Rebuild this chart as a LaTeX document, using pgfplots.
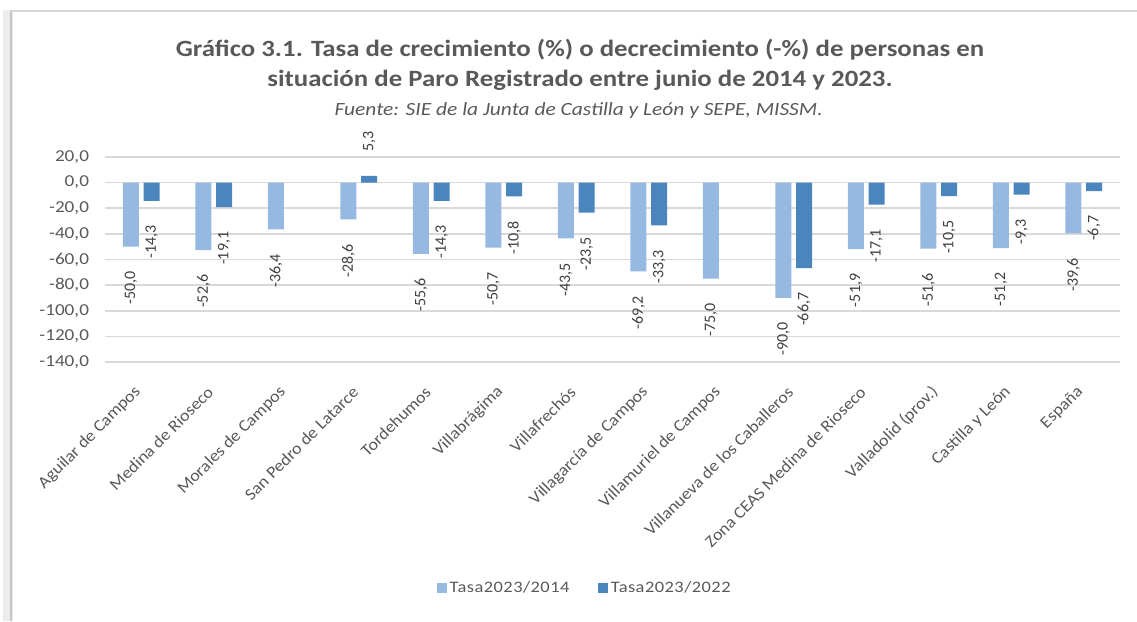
\documentclass[border=0pt]{standalone}
\usepackage{graphicx}
\usepackage{pgfplots}
\pgfplotsset{compat=1.18}
\usepackage{fontspec}
\setmainfont{Carlito}[FakeStretch=1.15]
\newfontfamily\valfont{Carlito}
\newfontfamily\catfont{Carlito}[FakeStretch=1.08]
\newfontfamily\legfont{Carlito}[FakeStretch=1.15, LetterSpace=3]
\definecolor{lightbar}{RGB}{149,185,225}
\definecolor{darkbar}{RGB}{74,134,189}
\definecolor{txt}{RGB}{89,89,89}
\definecolor{gridc}{RGB}{217,217,217}
\begin{document}
\begin{tikzpicture}
\useasboundingbox (0,0) rectangle (852.75pt,465.75pt);
% frame
\fill[gray!15] (2.25pt,0) rectangle (10pt,458.25pt);
\draw[gray!45, line width=2pt] (8.25pt,0) -- (8.25pt,458.25pt);
\draw[gray!30, line width=2pt] (8.25pt,457.5pt) -- (852.75pt,457.5pt);
% titles
\node[font=\fontsize{17.5}{20}\selectfont\bfseries, text=txt] at (435pt,428.25pt) {Gráfico 3.1. Tasa de crecimiento (\%) o decrecimiento (-\%) de personas en};
\node[font=\fontsize{17.5}{20}\selectfont\bfseries, text=txt] at (435pt,405.75pt) {situación de Paro Registrado entre junio de 2014 y 2023.};
\node[font=\fontsize{14}{16}\selectfont\itshape, text=txt] at (434pt,382.5pt) {Fuente: SIE de la Junta de Castilla y León y SEPE, MISSM.};
\begin{axis}[
  at={(78.75pt,194.25pt)}, anchor=south west,
  scale only axis, width=761.25pt, height=153.75pt,
  ybar=3.5pt, bar width=12pt,
  xmin=-0.5, xmax=13.5, ymin=-140, ymax=20,
  clip=false,
  xtick={0,...,13},
  xticklabels={Aguilar de Campos, Medina de Rioseco, Morales de Campos, San Pedro de Latarce, Tordehumos, Villabrágima, Villafrechós, Villagarcía de Campos, Villamuriel de Campos, Villanueva de los Caballeros, Zona CEAS Medina de Rioseco, Valladolid (prov.), Castilla y León, España},
  ytick={-140,-120,-100,-80,-60,-40,-20,0,20},
  yticklabels={{-140,0},{-120,0},{-100,0},{-80,0},{-60,0},{-40,0},{-20,0},{0,0},{20,0}},
  axis line style={draw=none},
  major tick length=0pt,
  ymajorgrids, grid style={gridc, line width=1.2pt},
  yticklabel style={font=\fontsize{12.5}{14}\selectfont, text=txt},
  yticklabel shift=8.5pt,
  xticklabel style={font=\catfont\fontsize{12.5}{14}\selectfont, text=txt, rotate=45, anchor=east},
  xticklabel shift=18pt,
  nodes near coords={\rotatebox{90}{\pgfmathprintnumber[fixed,fixed zerofill,precision=1,use comma,assume math mode=true]{\pgfplotspointmeta}}},
  nodes near coords align=vertical,
  every node near coord/.append style={font=\valfont\fontsize{12}{14}\selectfont, text=black!75, inner ysep=18.5pt, inner xsep=0pt, outer sep=0pt},
  legend image code/.code={\path[#1, draw=none] (0pt,-3.75pt) -- (7.5pt,-3.75pt) -- (7.5pt,3.75pt) -- (0pt,3.75pt) -- cycle;},
  legend style={at={(0.473,-1.102)}, anchor=center, draw=none, legend columns=2, font=\legfont\fontsize{12}{14}\selectfont, text=txt, /tikz/every even column/.append style={column sep=19.5pt}},
]
\addplot[fill=lightbar, draw=none] coordinates {
(0,-50.0) (1,-52.6) (2,-36.4) (3,-28.6) (4,-55.6) (5,-50.7) (6,-43.5) (7,-69.2) (8,-75.0) (9,-90.0) (10,-51.9) (11,-51.6) (12,-51.2) (13,-39.6)};
\addplot[fill=darkbar, draw=none] coordinates {
(0,-14.3) (1,-19.1) (3,5.3) (4,-14.3) (5,-10.8) (6,-23.5) (7,-33.3) (9,-66.7) (10,-17.1) (11,-10.5) (12,-9.3) (13,-6.7)};
\legend{Tasa2023/2014, Tasa2023/2022}
\end{axis}
\end{tikzpicture}
\end{document}
